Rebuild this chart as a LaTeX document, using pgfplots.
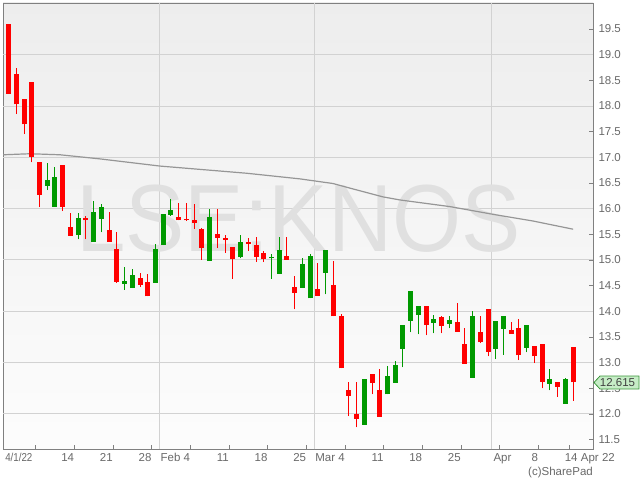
\documentclass[border=0pt]{standalone}
\usepackage{fontspec}
\setmainfont{Liberation Sans}
\usepackage{graphicx}
\usepackage{pgfplots}
\usepackage{pgfplotstable}
\pgfplotsset{compat=1.18}
\definecolor{cred}{RGB}{255,0,0}
\definecolor{cgreen}{RGB}{0,153,0}
\definecolor{tagfill}{RGB}{198,236,198}
\definecolor{tagdraw}{RGB}{60,150,60}
\definecolor{macol}{RGB}{150,150,150}
\definecolor{lbl}{RGB}{105,105,105}
\definecolor{gridc}{RGB}{210,210,210}

\pgfplotstableread{
i o h l c
0 19.60 19.60 18.24 18.24
1 18.62 18.74 17.84 18.03
2 18.14 18.14 17.45 17.64
3 18.47 18.47 16.90 17.00
4 16.91 16.91 16.03 16.27
7 16.85 16.85 15.95 16.04
8 15.64 15.91 15.47 15.47
10 15.81 15.86 15.40 15.77
13 15.58 15.94 15.36 15.36
14 15.21 15.54 14.56 14.58
17 14.65 14.74 14.47 14.52
18 14.57 14.73 14.29 14.29
22 15.84 16.12 15.77 15.77
23 15.80 16.12 15.76 15.77
24 15.78 16.09 15.60 15.73
25 15.60 15.62 15.00 15.24
27 15.51 15.99 15.23 15.43
28 15.42 15.49 15.14 15.39
29 15.25 15.25 14.63 15.01
31 15.36 15.42 15.18 15.31
32 15.29 15.44 14.97 15.06
33 15.14 15.18 14.96 15.01
36 15.08 15.44 15.00 15.00
37 14.47 14.69 14.04 14.36
40 14.44 14.94 14.30 14.30
42 14.51 14.98 13.90 13.90
43 13.91 13.95 12.89 12.89
44 12.47 12.63 11.96 12.36
45 12.00 12.63 11.74 11.91
47 12.78 12.78 12.38 12.60
48 12.47 12.88 11.95 11.95
54 14.10 14.10 13.53 13.73
56 13.89 13.91 13.57 13.72
58 13.79 14.16 13.60 13.60
59 13.36 13.67 12.98 12.98
61 13.60 13.91 13.38 13.40
62 14.05 14.05 13.12 13.21
65 13.64 13.80 13.56 13.56
66 13.68 13.86 13.05 13.14
68 13.32 13.32 12.99 13.12
69 13.36 13.36 12.50 12.63
71 12.62 12.62 12.34 12.53
73 13.31 13.31 12.26 12.615
}\redtab

\pgfplotstableread{
i o h l c
5 16.45 16.88 16.36 16.56
6 16.04 16.81 16.04 16.62
9 15.49 15.91 15.40 15.81
11 15.36 16.14 15.36 15.94
12 15.80 16.09 15.54 16.03
15 14.54 14.87 14.42 14.59
16 14.45 14.82 14.45 14.71
19 14.56 15.31 14.56 15.21
20 15.29 15.90 15.29 15.90
21 15.88 16.19 15.86 15.97
26 14.99 15.99 14.99 15.84
30 15.05 15.49 15.03 15.35
34 15.03 15.12 14.63 15.06
35 14.73 15.44 14.73 15.19
38 14.46 15.03 14.46 14.92
39 14.25 15.12 14.25 15.08
41 14.75 15.19 14.33 15.19
46 11.79 12.68 11.79 12.68
49 12.38 12.94 12.38 12.74
50 12.61 13.04 12.61 12.95
51 13.27 13.73 12.91 13.73
52 13.82 14.40 13.59 14.40
53 13.93 14.10 13.55 14.10
55 13.78 13.92 13.57 13.85
57 13.76 13.90 13.67 13.83
60 12.71 14.00 12.71 13.91
63 13.27 13.81 13.07 13.81
64 13.66 13.91 13.15 13.91
67 13.29 13.73 13.20 13.73
70 12.59 12.88 12.46 12.68
72 12.20 12.71 12.20 12.68
}\greentab

\pgfplotstableread{
i v
-0.72 17.05
2.77 17.07
6.65 17.05
11.8 16.97
19.58 16.83
30.8 16.69
37.7 16.58
41.95 16.49
44.15 16.40
48.4 16.23
50.6 16.17
57.08 16.04
62.64 15.89
67.8 15.76
73 15.60
}\matab

\begin{document}
\begin{tikzpicture}
\path[use as bounding box] (0,0) rectangle (640pt,480pt);
\begin{axis}[
  at={(3pt,30.7pt)}, anchor=south west,
  width=590.3pt, height=446.3pt, scale only axis,
  xmin=-0.72, xmax=75.61, ymin=11.312, ymax=20.007,
  axis background/.style={top color=black!7, bottom color=black!1},
  axis line style={draw=black!50, line width=0.9pt},
  tick style={draw=black!50, line width=0.8pt},
  tick align=inside,
  major tick length=4pt,
  xtick pos=lower, ytick pos=upper,
  yticklabel pos=upper,
  xtick={3.5,8.5,13.5,18.5,23.5,28.5,33.5,38.5,43.5,48.5,53.5,58.5,63.5,68.5,72.5},
  xticklabels={\scalebox{0.85}[1]{4/1/22}\hspace*{3pt},14,21,28,Feb 4,11,18,25,Mar 4,11,18,25,Apr\hspace*{-12pt},8,14\hspace*{-8.5pt}},
  xticklabel style={anchor=north east, inner sep=0pt, yshift=-4pt, text=lbl, font=\fontsize{11.5}{13}\selectfont},
  ytick={11.5,12,12.5,13,13.5,14,14.5,15,15.5,16,16.5,17,17.5,18,18.5,19,19.5},
  yticklabel style={anchor=west, inner sep=0pt, xshift=5pt, text=lbl, font=\fontsize{11.5}{13}\selectfont,
    /pgf/number format/.cd, fixed, fixed zerofill, precision=1, assume math mode=true},
  extra y ticks={12,13,14,15,16,17,18,19},
  extra y tick labels={},
  extra y tick style={grid=major, major tick length=0pt},
  extra x ticks={19.5,39.5,62.5},
  extra x tick labels={},
  extra x tick style={grid=major, major tick length=0pt},
  major grid style={draw=gridc, line width=1pt},
  every axis plot/.append style={forget plot},
]
\node[text=black!12, inner sep=0pt] at (axis cs:37.48,15.80) {\resizebox{444pt}{66.5pt}{LSE:KNOS}};

\addplot[macol, line width=1.2pt, mark=none] table[x=i, y=v] {\matab};

% wicks
\addplot[draw=none, mark=none,
  error bars/.cd, y dir=plus, y explicit, error mark=none,
  error bar style={draw=cred, line width=1pt}]
  table[x=i, y=l, y error plus expr=\thisrow{h}-\thisrow{l}] {\redtab};
\addplot[draw=none, mark=none,
  error bars/.cd, y dir=plus, y explicit, error mark=none,
  error bar style={draw=cgreen, line width=1pt}]
  table[x=i, y=l, y error plus expr=\thisrow{h}-\thisrow{l}] {\greentab};
% bodies
\addplot[draw=none, mark=none,
  error bars/.cd, y dir=plus, y explicit, error mark=none,
  error bar style={draw=cred, line width=5pt}]
  table[x=i, y=c, y error plus expr=\thisrow{o}-\thisrow{c}] {\redtab};
\addplot[draw=none, mark=none,
  error bars/.cd, y dir=plus, y explicit, error mark=none,
  error bar style={draw=cgreen, line width=5pt}]
  table[x=i, y=o, y error plus expr=\thisrow{c}-\thisrow{o}] {\greentab};
\end{axis}

\node[anchor=north east, inner sep=0pt, text=lbl, font=\fontsize{11.5}{13}\selectfont] at (615pt,26.7pt) {Apr 22};
\node[anchor=north east, inner sep=0pt, text=lbl, font=\fontsize{11.5}{13}\selectfont] at (593pt,13.5pt) {(c)SharePad};
\draw[draw=tagdraw, fill=tagfill, line width=0.8pt] (594pt,97.5pt) -- (600pt,104pt) -- (639pt,104pt) -- (639pt,91pt) -- (600pt,91pt) -- cycle;
\node[inner sep=0pt, text=black!75, font=\fontsize{11.5}{13}\selectfont] at (617.5pt,97.5pt) {12.615};
\end{tikzpicture}
\end{document}
